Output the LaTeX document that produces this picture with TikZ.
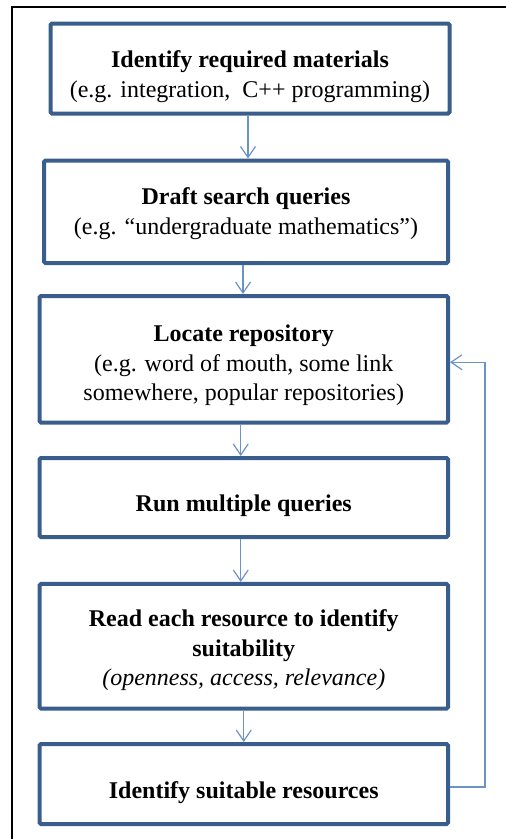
\documentclass[tikz,border=0pt]{standalone}
\usepackage{fontspec}
\setmainfont{Liberation Serif}
\usetikzlibrary{arrows.meta,calc}
\definecolor{boxblue}{HTML}{3A5E8C}
\definecolor{arrblue}{HTML}{6A93C8}
\begin{document}
\begin{tikzpicture}[x=1pt,y=-1pt,
  stepbox/.style={draw=boxblue, line width=4pt, rounded corners=1.5pt, inner sep=0pt},
  steptext/.style={align=center, inner sep=0pt, font=\fontsize{24}{29.5}\selectfont, text=black},
  arr/.style={draw=arrblue, line width=1.2pt, -{Straight Barb[length=11pt,width=15pt,line width=1.2pt]}},
  frame/.style={draw=black, line width=2.2pt}]
\useasboundingbox (0,0) rectangle (506,839);
\draw[frame] (12,840) -- (12,7) -- (507,7);
\node[stepbox, minimum width=399pt, minimum height=90pt] (b1) at (250,68.5) {};
\node[stepbox, minimum width=404pt, minimum height=102.5pt] (b2) at (246,211.75) {};
\node[stepbox, minimum width=408.5pt, minimum height=126.5pt] (b3) at (243.75,359.25) {};
\node[stepbox, minimum width=408.5pt, minimum height=79pt] (b4) at (243.75,497.5) {};
\node[stepbox, minimum width=408.5pt, minimum height=124.7pt] (b5) at (243.75,646.3) {};
\node[stepbox, minimum width=408.5pt, minimum height=80pt] (b6) at (243.75,784) {};
\node[steptext] (t1) at ([yshift=-8pt]b1.center)
  {\textbf{Identify required materials}\\(e.g. integration,~~C++ programming)};
\node[steptext] (t2) at ([yshift=-2pt]b2.center)
  {\textbf{Draft search queries}\\(e.g. “undergraduate mathematics”)};
\node[steptext] (t3) at ([yshift=-6pt]b3.center)
  {\textbf{Locate repository}\\(e.g. word of mouth, some link\\somewhere, popular repositories)};
\node[steptext] (t4) at ([yshift=-8pt]b4.center)
  {\textbf{Run multiple queries}};
\node[steptext] (t5) at ([yshift=-4pt]b5.center)
  {\textbf{Read each resource to identify}\\\textbf{suitability}\\\textit{(openness, access, relevance)}};
\node[steptext] (t6) at ([yshift=-9pt]b6.center)
  {\textbf{Identify suitable resources}};
\coordinate (loopx) at (485,0);
\draw[arr] ([xshift=-2pt]b1.south) -- ([xshift=-2pt]b1.south |- b2.north);
\draw[arr] ([xshift=-3pt]b2.south) -- ([xshift=-3pt]b2.south |- b3.north);
\draw[arr] ([xshift=-3pt]b3.south) -- ([xshift=-3pt]b3.south |- b4.north);
\draw[arr] ([xshift=-3pt]b4.south) -- ([xshift=-3pt]b4.south |- b5.north);
\draw[arr] (b5.south) -- (b5.south |- b6.north);
\draw[arr] ([yshift=-3pt]b6.east) -- ([yshift=-3pt]b6.east -| loopx) |- ([yshift=-3pt]b3.east);
\end{tikzpicture}
\end{document}
